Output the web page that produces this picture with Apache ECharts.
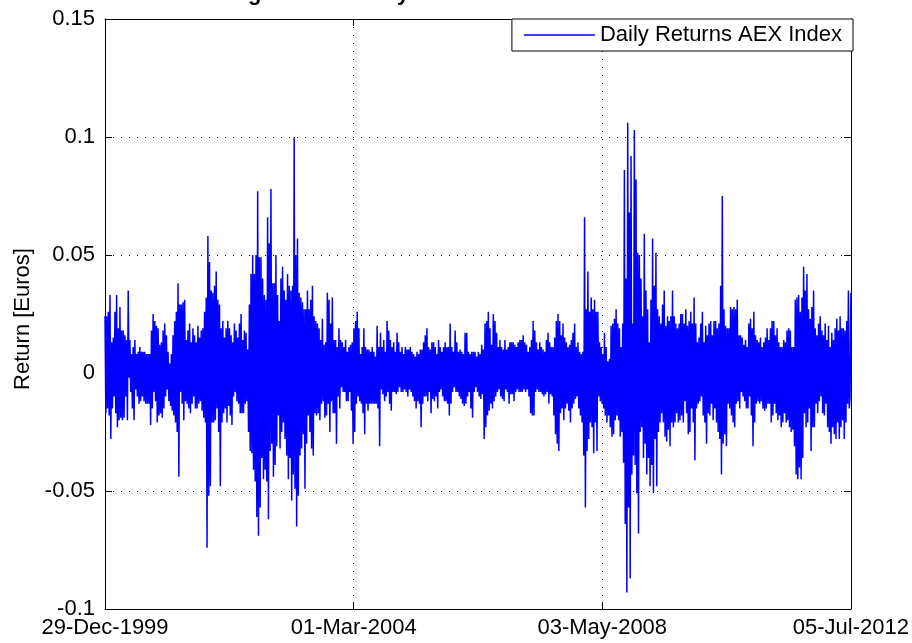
<!DOCTYPE html>
<html>
<head>
<meta charset="utf-8">
<script src="https://cdn.jsdelivr.net/npm/echarts@6/dist/echarts.min.js"></script>
<style>
html,body{margin:0;padding:0;background:#fff;}
#c{width:912px;height:643px;}
</style>
</head>
<body>
<div id="c"></div>
<script>
// Daily returns of the AEX index, read off the picture as alternating
// upper / lower swings, in chronological order (29-Dec-1999 .. 05-Jul-2012)
const r2000_2001 = [
.024,-.017,.024,-.015,.026,-.018,.033,-.028,.013,-.015,.015,-.010,.026,-.017,.033,-.023,.019,-.020,.028,-.019,
.018,-.020,.018,-.019,.016,-.010,.014,-.020,.035,-.002,.014,-.008,.008,-.015,.011,-.020,.014,-.007,.008,-.010,
.009,-.013,.011,-.012,.009,-.010,.009,-.012,.009,-.013,.008,-.013,.008,-.013,.008,-.022,.018,-.015,.025,-.008,
.022,-.012,.020,-.021,.019,-.018,.012,-.017,.013,-.019,.018,-.015,.021,-.010,.016,-.007,.009,-.012,.004,-.014,
.008,-.016,.016,-.018,.022,-.021,.026,-.025,.038,-.044,.029,-.008,.029,-.013,.030,-.020,.031,-.012,.014,-.013,
.018,-.015,.021,-.017,.013,-.013,.019,-.010,.016,-.015,.013,-.015,.020,-.013,.015,-.012,.018,-.016,.019,-.019,
.026,-.021,.032,-.074,.058,-.052,.047,-.048,.035,-.021,.034,-.021,.037,-.020,.043,-.015,.031,-.025,.029,-.048,
.019,-.021,.022,-.017
];
const r2002_2004 = [
.015,-.015,.019,-.021,.022,-.014,.019,-.018,.016,-.022,.013,-.010,.021,-.008,.018,-.012,.015,-.013,.021,-.017,
.025,-.017,.014,-.017,.018,-.013,.017,-.012,.010,-.025,.029,-.033,.042,-.034,.050,-.041,.042,-.046,.050,-.061,
.077,-.069,.049,-.057,.049,-.036,.040,-.045,.033,-.041,.031,-.046,.066,-.062,.055,-.033,.078,-.030,.038,-.044,
.038,-.039,.050,-.031,.033,-.018,.022,-.032,.040,-.025,.045,-.021,.035,-.028,.031,-.035,.042,-.045,.037,-.036,
.035,-.054,.037,-.043,.100,-.049,.050,-.065,.057,-.052,.034,-.035,.032,-.032,.030,-.026,.027,-.049,.027,-.030,
.035,-.018,.027,-.025,.031,-.032,.037,-.035,.024,-.017,.022,-.018,.021,-.017,.019,-.020,.014,-.013,.023,-.012,
.012,-.019,.013,-.018,.034,-.013,.031,-.025,.021,-.012,.032,-.017,.014,-.017,.014,-.030,.011,-.010,.019,-.015,
.014,-.006,.013,-.008,.011,-.008,.014,-.012,.009,-.012
];
const r2004_2006 = [
.011,-.008,.012,-.016,.013,-.030,.019,-.025,.022,-.013,.026,-.010,.019,-.012,.008,-.013,.011,-.017,.019,-.026,
.011,-.013,.010,-.016,.010,-.013,.009,-.013,.011,-.013,.009,-.013,.007,-.013,.020,-.015,.011,-.031,.017,-.007,
.011,-.009,.014,-.012,.009,-.010,.022,-.008,.018,-.013,.014,-.016,.011,-.008,.013,-.008,.009,-.009,.017,-.008,
.013,-.006,.009,-.008,.011,-.008,.008,-.007,.011,-.008,.010,-.010,.010,-.007,.011,-.008,.009,-.010,.008,-.012,
.007,-.015,.009,-.012,.008,-.013,.010,-.023,.010,-.013,.013,-.010,.016,-.010,.019,-.012,.011,-.008,.010,-.017,
.013,-.011,.013,-.012,.011,-.010,.008,-.015,.014,-.008,.011,-.007,.009,-.010,.011,-.012,.013,-.012,.011,-.013,
.011,-.018,.021,-.013,.011,-.008,.009,-.006,.018,-.008,.013,-.008,.009,-.010,.010,-.011,.009,-.013,.008,-.014,
.017,-.013,.017,-.010,.009,-.008,.008,-.015,.009,-.019
];
const r2006_2008 = [
.009,-.008,.009,-.006,.007,-.008,.009,-.010,.008,-.011,.012,-.009,.010,-.028,.021,-.023,.022,-.018,.026,-.016,
.019,-.013,.012,-.015,.025,-.012,.022,-.010,.017,-.008,.011,-.007,.014,-.010,.011,-.011,.010,-.012,.014,-.007,
.010,-.008,.011,-.013,.013,-.009,.013,-.009,.013,-.012,.012,-.008,.011,-.007,.013,-.008,.014,-.008,.014,-.008,
.016,-.007,.013,-.008,.012,-.007,.009,-.010,.011,-.017,.014,-.018,.022,-.018,.018,-.008,.013,-.007,.010,-.008,
.013,-.008,.011,-.009,.010,-.010,.009,-.009,.014,-.008,.017,-.013,.013,-.009,.011,-.010,.011,-.018,.015,-.026,
.022,-.030,.025,-.033,.022,-.017,.016,-.015,.021,-.020,.015,-.015,.013,-.013,.011,-.016,.012,-.021,.014,-.015,
.017,-.013,.021,-.011,.011,-.010,.013,-.015,.009,-.018,.008,-.021,.009,-.035,.066,-.057,.027,-.033,.043,-.028,
.026,-.021,.032,-.023,.027,-.034,.031,-.021,.026,-.033
];
const r2008_2010 = [
.026,-.010,.013,-.012,.011,-.013,.008,-.015,.017,-.018,.011,-.021,.005,-.018,.006,-.023,.020,-.027,.021,-.026,
.023,-.020,.027,-.018,.021,-.020,.019,-.027,.011,-.025,.021,-.038,.086,-.064,.040,-.093,.106,-.057,.068,-.087,
.092,-.043,.021,-.035,.103,-.039,.082,-.051,.051,-.068,.050,-.025,.040,-.023,.024,-.036,.059,-.030,.035,-.043,
.027,-.036,.013,-.048,.031,-.039,.057,-.051,.037,-.028,.051,-.048,.027,-.025,.024,-.021,.021,-.017,.029,-.021,
.035,-.027,.020,-.029,.024,-.024,.022,-.031,.024,-.021,.035,-.023,.024,-.021,.021,-.017,.019,-.021,.021,-.020,
.025,-.018,.025,-.021,.021,-.012,.027,-.017,.020,-.026,.022,-.025,.026,-.015,.021,-.021,.032,-.037,.021,-.015,
.013,-.013,.015,-.012,.021,-.010,.026,-.018,.013,-.021,.020,-.030,.016,-.017,.021,-.018,.022,-.013,.016,-.020,
.022,-.015,.022,-.021,.019,-.025,.021,-.028,.037,-.043
];
const r2010_2012 = [
.075,-.030,.027,-.026,.020,-.031,.019,-.013,.019,-.015,.028,-.018,.027,-.021,.028,-.023,.027,-.013,.031,-.012,
.016,-.015,.016,-.008,.015,-.010,.012,-.012,.014,-.015,.011,-.015,.021,-.010,.023,-.018,.019,-.031,.026,-.021,
.016,-.013,.014,-.012,.013,-.013,.015,-.012,.011,-.015,.013,-.016,.015,-.015,.019,-.013,.014,-.013,.019,-.021,
.022,-.018,.022,-.013,.016,-.017,.019,-.020,.013,-.018,.011,-.023,.011,-.021,.014,-.017,.013,-.021,.018,-.020,
.019,-.023,.018,-.025,.011,-.024,.011,-.031,.031,-.043,.032,-.045,.033,-.040,.026,-.045,.032,-.036,.045,-.017,
.035,-.023,.042,-.021,.027,-.015,.023,-.033,.028,-.023,.035,-.023,.019,-.013,.016,-.017,.021,-.012,.024,-.010,
.018,-.017,.016,-.018,.021,-.013,.014,-.023,.020,-.025,.011,-.030,.017,-.023,.014,-.026,.019,-.028,.023,-.021,
.018,-.028,.024,-.023,.019,-.020,.019,-.028,.018,-.021,.022,-.013,.035,-.015,-.010,.034
];

// x-axis: days since 29-Dec-1999, with the four date ticks
const tickLabels = ['29-Dec-1999', '01-Mar-2004', '03-May-2008', '05-Jul-2012'];
const tickDays = [0, 1524, 3048, 4572];
const yMin = -0.1, yMax = 0.15, yStep = 0.05;
const seriesName = 'Daily Returns AEX Index';
const titleText = 'Log Returns Daily AEX Index';
const yName = 'Return [Euros]';

const returns = [].concat(r2000_2001, r2002_2004, r2004_2006, r2006_2008, r2008_2010, r2010_2012);
const span = tickDays[tickDays.length - 1];
const pts = returns.map((v, i) => [i * span / (returns.length - 1), v]);

const FONT = 'Liberation Sans, Arial, Helvetica, sans-serif';
const dotted = { color: '#000', width: 1, type: [1, 7] };

const chart = echarts.init(document.getElementById('c'), null, { renderer: 'canvas' });
chart.setOption({
  animation: false,
  backgroundColor: '#fff',
  textStyle: { fontFamily: FONT },
  title: {
    text: titleText,
    left: 221,
    top: -17,
    padding: 0,
    textStyle: { fontFamily: FONT, fontSize: 22, fontWeight: 'bold', color: '#000' }
  },
  grid: { left: 105, right: 58, top: 19, bottom: 34, containLabel: false },
  legend: {
    data: [{ name: seriesName, icon: 'rect' }],
    right: 59,
    top: 19,
    padding: [5, 11, 5, 12],
    itemWidth: 71,
    itemHeight: 1.5,
    borderColor: '#000',
    borderWidth: 1,
    borderRadius: 0,
    backgroundColor: '#fff',
    itemStyle: { color: '#0000ff', borderWidth: 0 },
    textStyle: { fontFamily: FONT, fontSize: 22, color: '#000', lineHeight: 22 }
  },
  xAxis: [
    {
      type: 'value', min: tickDays[0], max: span, interval: tickDays[1] - tickDays[0],
      axisLine: { show: true, onZero: false, lineStyle: { color: '#000', width: 1 } },
      axisTick: { show: true, inside: true, length: 7, lineStyle: { color: '#000' } },
      splitLine: { show: true, lineStyle: dotted },
      axisLabel: {
        show: true, margin: 8, fontSize: 22, color: '#000', fontFamily: FONT,
        showMinLabel: true, showMaxLabel: true, hideOverlap: false,
        formatter: v => { const k = tickDays.indexOf(Math.round(v)); return k >= 0 ? tickLabels[k] : ''; }
      }
    },
    {
      type: 'value', position: 'top', min: tickDays[0], max: span, interval: tickDays[1] - tickDays[0],
      axisLine: { show: true, onZero: false, lineStyle: { color: '#000', width: 1 } },
      axisTick: { show: true, inside: true, length: 7, lineStyle: { color: '#000' } },
      splitLine: { show: false },
      axisLabel: { show: false }
    }
  ],
  yAxis: [
    {
      type: 'value', min: yMin, max: yMax, interval: yStep,
      name: yName, nameLocation: 'middle', nameGap: 67, nameRotate: 90,
      nameTextStyle: { fontFamily: FONT, fontSize: 22, color: '#000', padding: [0, 10, 0, 0] },
      axisLine: { show: true, onZero: false, lineStyle: { color: '#000', width: 1 } },
      axisTick: { show: true, inside: true, length: 7, lineStyle: { color: '#000' } },
      splitLine: { show: true, lineStyle: dotted },
      axisLabel: {
        show: true, margin: 10, fontSize: 22, color: '#000', fontFamily: FONT,
        showMinLabel: true, showMaxLabel: true,
        formatter: v => String(+(+v).toFixed(2))
      }
    },
    {
      type: 'value', position: 'right', min: yMin, max: yMax, interval: yStep,
      axisLine: { show: true, onZero: false, lineStyle: { color: '#000', width: 1 } },
      axisTick: { show: true, inside: true, length: 7, lineStyle: { color: '#000' } },
      splitLine: { show: false },
      axisLabel: { show: false }
    }
  ],
  series: [
    {
      name: seriesName,
      type: 'line',
      xAxisIndex: 0,
      yAxisIndex: 0,
      data: pts,
      symbol: 'none',
      showSymbol: false,
      silent: true,
      lineStyle: { color: '#0000ff', width: 1.5 },
      itemStyle: { color: '#0000ff' },
      emphasis: { disabled: true }
    }
  ]
});
</script>
</body>
</html>
